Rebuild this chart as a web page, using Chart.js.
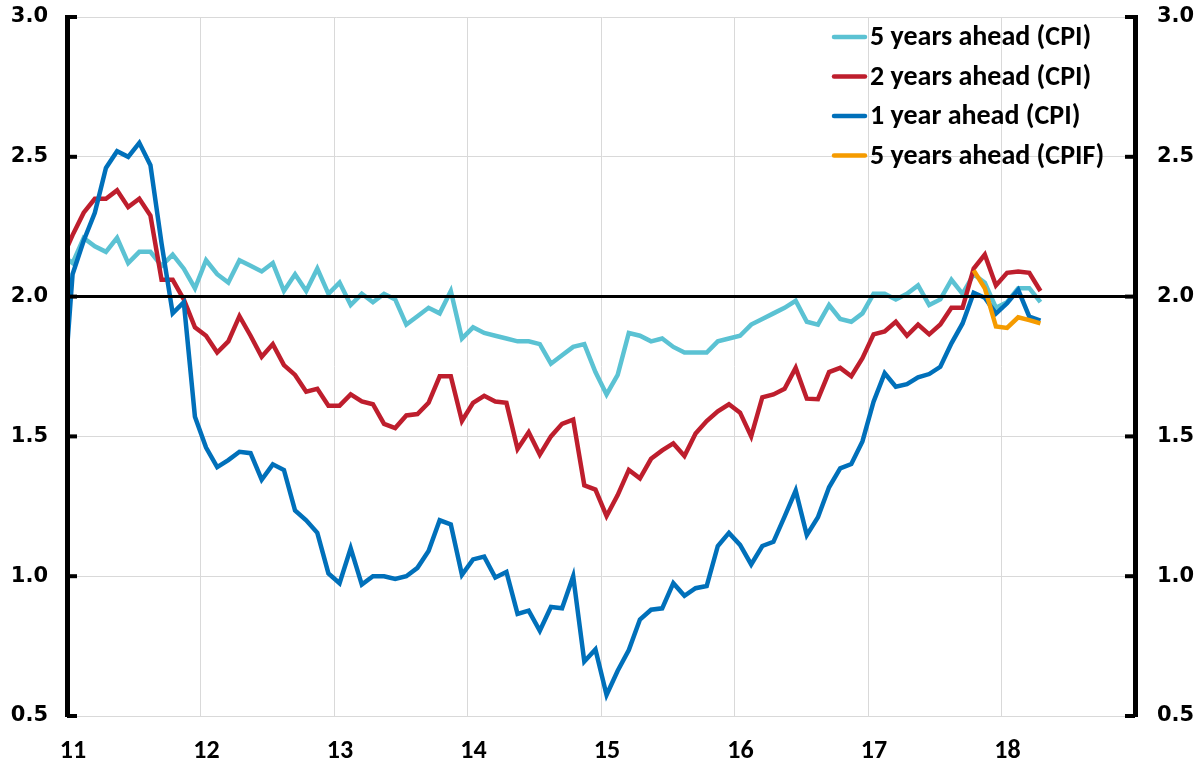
<!DOCTYPE html>
<html><head><meta charset="utf-8">
<script src="https://cdn.jsdelivr.net/npm/chart.js@4"></script>
<style>html,body{margin:0;padding:0;background:#fff;overflow:hidden}#wrap{width:1198px;height:766px;position:relative}</style>
</head><body><div id="wrap"><canvas id="c" width="1198" height="766"></canvas></div>
<script>
// ---- data (monthly, first value = Dec 2010, last = Apr 2018) ----
const startYear = 2010, startMonth = 12;
const seriesNames = ['5 years ahead (CPI)', '2 years ahead (CPI)', '1 year ahead (CPI)', '5 years ahead (CPIF)'];
const fiveYearCPI = [2.15,
 2.12,2.21,2.18,2.16,2.21,2.12,2.16,2.16,2.11,2.15,2.10,2.03,
 2.13,2.08,2.05,2.13,2.11,2.09,2.12,2.02,2.08,2.02,2.10,2.01,
 2.05,1.97,2.01,1.98,2.01,1.99,1.90,1.93,1.96,1.94,2.02,1.85,
 1.89,1.87,1.86,1.85,1.84,1.84,1.83,1.76,1.79,1.82,1.83,1.73,
 1.65,1.72,1.87,1.86,1.84,1.85,1.82,1.80,1.80,1.80,1.84,1.85,
 1.86,1.90,1.92,1.94,1.96,1.985,1.91,1.90,1.97,1.92,1.91,1.94,
 2.01,2.01,1.99,2.01,2.04,1.97,1.99,2.06,2.01,2.08,2.05,1.96,
 1.98,2.03,2.03,1.98];
const twoYearCPI = [2.13,
 2.22,2.30,2.35,2.35,2.38,2.32,2.35,2.29,2.06,2.06,1.99,1.89,
 1.86,1.80,1.84,1.93,1.86,1.785,1.83,1.755,1.72,1.66,1.67,1.61,
 1.61,1.65,1.625,1.615,1.545,1.53,1.575,1.58,1.62,1.715,1.715,1.555,
 1.62,1.645,1.625,1.62,1.455,1.515,1.435,1.50,1.545,1.56,1.325,1.31,
 1.215,1.29,1.38,1.35,1.42,1.45,1.475,1.43,1.51,1.555,1.59,1.615,
 1.585,1.50,1.64,1.65,1.67,1.745,1.635,1.633,1.73,1.745,1.715,1.78,
 1.865,1.875,1.91,1.86,1.90,1.865,1.90,1.96,1.96,2.10,2.15,2.04,
 2.085,2.09,2.085,2.02];
const oneYearCPI = [1.54,
 2.08,2.20,2.30,2.46,2.52,2.50,2.55,2.47,2.19,1.94,1.98,1.57,
 1.46,1.39,1.415,1.445,1.44,1.345,1.40,1.38,1.235,1.20,1.155,1.01,
 0.975,1.10,0.97,1.00,1.00,0.99,1.00,1.03,1.09,1.20,1.185,1.005,
 1.06,1.07,0.995,1.015,0.865,0.877,0.805,0.89,0.885,1.00,0.695,0.738,
 0.575,0.662,0.736,0.845,0.88,0.885,0.975,0.93,0.957,0.965,1.108,1.155,
 1.112,1.042,1.108,1.123,1.213,1.306,1.147,1.211,1.318,1.386,1.401,1.482,
 1.624,1.726,1.678,1.687,1.711,1.723,1.749,1.833,1.904,2.014,1.996,1.939,
 1.976,2.024,1.928,1.914];
// CPIF series starts Oct 2017 (index 82 counted from Dec 2010)
const cpifStartIndex = 82;
const fiveYearCPIF = [2.094,2.03,1.893,1.888,1.926,1.916,1.904];
const xTickLabels = ['11','12','13','14','15','16','17','18'];
const yTickLabels = ['0.5','1.0','1.5','2.0','2.5','3.0'];
const referenceLevel = 2.0;
const colors = ['#5BC2D3', '#BE1E2D', '#0070BA', '#F59B00'];

// x position of month i (mid-month, years as 2-digit numbers)
function monthX(i){
  const total = (startYear - 2000) * 12 + (startMonth - 1) + i;
  return Math.floor(total / 12) + ((total % 12) + 0.5) / 12;
}
function toPoints(arr, offset){ return arr.map((v,i)=>({x: monthX(i + offset), y: v})); }

const allSeries = [toPoints(fiveYearCPI,0), toPoints(twoYearCPI,0), toPoints(oneYearCPI,0), toPoints(fiveYearCPIF,cpifStartIndex)];

const tickFont = {family: "'DejaVu Sans', Verdana, sans-serif", size: 21, weight: 'bold'};
const xFont = {family: "Carlito, Lato, 'Open Sans', sans-serif", size: 26, weight: 'bold'};
const legendFont = "bold 28px Carlito, Lato, 'Open Sans', sans-serif";

const overlay = {
  id: 'overlay',
  afterDatasetsDraw(chart){
    const {ctx, chartArea: a, scales} = chart;
    const y = scales.y.getPixelForValue(referenceLevel);
    ctx.save();
    ctx.strokeStyle = '#000'; ctx.lineWidth = 3;
    ctx.beginPath(); ctx.moveTo(a.left, y); ctx.lineTo(a.right, y); ctx.stroke();
    ctx.restore();
  },
  afterDraw(chart){
    const {ctx, chartArea: a, scales} = chart;
    ctx.save();
    // inward tick marks on both value axes
    ctx.strokeStyle = '#000'; ctx.lineWidth = 4;
    scales.y.ticks.forEach(t => {
      const y = scales.y.getPixelForValue(t.value);
      ctx.beginPath(); ctx.moveTo(a.left, y); ctx.lineTo(a.left + 10, y); ctx.stroke();
      ctx.beginPath(); ctx.moveTo(a.right - 10, y); ctx.lineTo(a.right, y); ctx.stroke();
    });
    // legend
    ctx.font = legendFont; ctx.textBaseline = 'middle'; ctx.textAlign = 'left';
    const x0 = a.right - 301, y0 = 37, step = 39.5;
    chart.data.datasets.forEach((ds, i) => {
      const y = y0 + i * step;
      ctx.strokeStyle = ds.borderColor; ctx.lineWidth = 4.5; ctx.lineCap = 'round';
      ctx.beginPath(); ctx.moveTo(x0, y); ctx.lineTo(x0 + 31, y); ctx.stroke();
      ctx.fillStyle = '#000';
      ctx.fillText(ds.label, x0 + 36, y + 1);
    });
    ctx.restore();
  }
};

function noVertPad(s){ s.paddingTop = 0; s.paddingBottom = 0; }

new Chart(document.getElementById('c'), {
  type: 'line',
  data: {
    datasets: seriesNames.map((name, i) => ({
      label: name, data: allSeries[i], borderColor: colors[i], backgroundColor: colors[i],
      borderWidth: 4.5, pointRadius: 0, tension: 0, fill: false, clip: 0, order: 4 - i
    }))
  },
  options: {
    responsive: false, animation: false, devicePixelRatio: 1,
    layout: {padding: {top: 17, left: 0, right: 0, bottom: 0}},
    plugins: {legend: {display: false}, tooltip: {enabled: false}},
    scales: {
      x: {
        type: 'linear', min: 11, max: 19,
        afterFit: s => { s.height = 50; s.paddingLeft = 0; s.paddingRight = 0; },
        grid: {color: '#d9d9d9', lineWidth: 1, drawTicks: false},
        border: {color: '#d9d9d9', width: 1},
        ticks: {stepSize: 1, autoSkip: false, maxRotation: 0, padding: 20, labelOffset: 6,
          color: '#000', font: xFont,
          callback: v => xTickLabels[Math.round(v) - 11] ?? ''}
      },
      y: {
        position: 'left', min: 0.5, max: 3,
        afterFit: s => { s.width = 67; noVertPad(s); },
        grid: {color: '#d9d9d9', lineWidth: 1, drawTicks: false},
        border: {color: '#000', width: 5, z: 1},
        ticks: {stepSize: 0.5, padding: 19, color: '#000', font: tickFont,
          callback: v => yTickLabels[Math.round((v - 0.5) / 0.5)]}
      },
      y2: {
        position: 'right', min: 0.5, max: 3,
        afterFit: s => { s.width = 63; noVertPad(s); },
        grid: {drawOnChartArea: false, drawTicks: false},
        border: {color: '#000', width: 5, z: 1},
        ticks: {stepSize: 0.5, padding: 22, color: '#000', font: tickFont,
          callback: v => yTickLabels[Math.round((v - 0.5) / 0.5)]}
      }
    }
  },
  plugins: [overlay]
});
</script></body></html>
